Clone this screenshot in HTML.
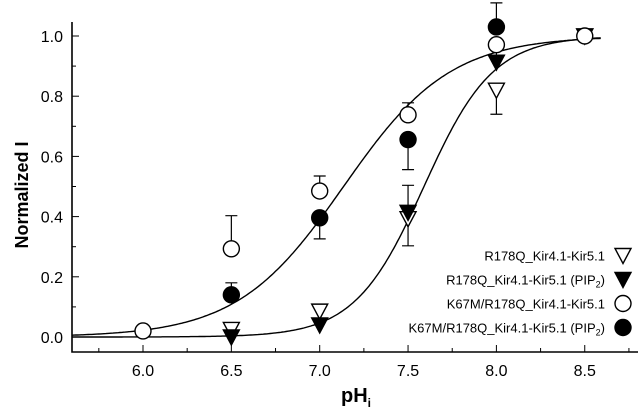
<!DOCTYPE html>
<html><head><meta charset="utf-8"><style>
body{margin:0;background:#fff}
svg{display:block;font-family:"Liberation Sans",Arial,sans-serif}
</style></head><body>
<svg id="chart" width="640" height="411" viewBox="0 0 640 411" xmlns="http://www.w3.org/2000/svg">
<g id="axes"></g>
<g id="curves"></g>
<g id="marks"></g>
<g id="legend"></g>
<text transform="translate(28,195) rotate(-90)" text-anchor="middle" font-size="18" font-weight="bold">Normalized I</text>
<text x="356" y="402" text-anchor="middle" font-size="20" font-weight="bold">pH<tspan font-size="12" dy="5">i</tspan></text>
</svg>
<script>
const xTicks=[6.0,6.5,7.0,7.5,8.0,8.5];
const yTicks=[0.0,0.2,0.4,0.6,0.8,1.0];
const phValues=[6.0,6.5,7.0,7.5,8.0,8.5];
const openTri=[null,0.025,0.086,0.393,0.82,1.0];
const openTriErr=[null,0,0,0.09,0.08,0.01];
const filledTri=[null,0.0,0.04,0.414,0.913,1.0];
const filledTriErr=[null,0,0.02,0.09,0.04,0];
const openCirc=[0.02,0.293,0.485,0.738,0.971,1.0];
const openCircErr=[0,0.11,0.05,0.04,0,0];
const filledCirc=[null,0.14,0.396,0.656,1.03,null];
const filledCircErr=[null,0.04,0.07,0.10,0.08,null];
const fitLeft=[7.135,1.44];
const fitRight=[7.59,2.22];
const legendLabels=["R178Q_Kir4.1-Kir5.1","R178Q_Kir4.1-Kir5.1 (PIP","K67M/R178Q_Kir4.1-Kir5.1","K67M/R178Q_Kir4.1-Kir5.1 (PIP"];

const NS="http://www.w3.org/2000/svg";
const X=v=>143+(v-6.0)*176.7;
const Y=v=>337-v*301;
function el(tag,attrs,parent){const e=document.createElementNS(NS,tag);for(const k in attrs)e.setAttribute(k,attrs[k]);parent.appendChild(e);return e;}
const axes=document.getElementById('axes');
let a=el('path',{d:'M72 22 V352 H638',fill:'none',stroke:'#000','stroke-width':1.6},axes);

for(let v=5.75;v<=8.8;v+=0.25){const major=Math.abs((v*2)-Math.round(v*2))<1e-6;
 const t=el('line',{x1:X(v),x2:X(v),y1:352,y2:352-(major?7:4),stroke:'#000','stroke-width':1},axes);
 }
xTicks.forEach(v=>{const t=el('text',{x:X(v),y:376,'text-anchor':'middle','font-size':16},axes);t.textContent=v.toFixed(1);
 });
for(let i=0;i<=10;i++){const v=i/10;const major=i%2===0;
 const t=el('line',{x1:72,x2:72+(major?7:4),y1:Y(v),y2:Y(v),stroke:'#000','stroke-width':1},axes);
 }
yTicks.forEach(v=>{const t=el('text',{x:63,y:Y(v)+6,'text-anchor':'end','font-size':16},axes);t.textContent=v.toFixed(1);
 });

const curves=document.getElementById('curves');
function hill(p,pk,n){return 1/(1+Math.pow(10,n*(pk-p)));}
[fitLeft,fitRight].forEach((f,idx)=>{let d='';for(let p=5.6;p<=8.59;p+=0.01){d+=(d?'L':'M')+X(p).toFixed(1)+' '+Y(hill(p,f[0],f[1])).toFixed(1);}
 const c=el('path',{d:d,fill:'none',stroke:'#000','stroke-width':1.4},curves);
 });

const marks=document.getElementById('marks');
function errbar(x,y,e,dir){if(!e)return;const y2=Y(y+dir*e);
 const g=el('path',{d:`M${x} ${Y(y)} V${y2} M${x-6} ${y2} H${x+6}`,stroke:'#000','stroke-width':1.2,fill:'none'},marks);
 }
function sym(type,x,y,parent){let s;
 if(type==='ot'||type==='ft'){s=el('path',{d:`M${x-8} ${y-7} H${x+8} L${x} ${y+8} Z`,fill:type==='ft'?'#000':'#fff',stroke:'#000','stroke-width':1.4},parent);}
 else{s=el('circle',{cx:x,cy:y,r:8,fill:type==='fc'?'#000':'#fff',stroke:'#000','stroke-width':1.4},parent);}
 return s;}
const series=[['ot',openTri,openTriErr,-1],['ft',filledTri,filledTriErr,1],['fc',filledCirc,filledCircErr,0],['oc',openCirc,openCircErr,1]];
series.forEach(([t,vals,errs,dir])=>{vals.forEach((v,i)=>{if(v===null)return;
 let d=dir; if(t==='fc'){d=(i===2||i===3)?-1:1;}
 errbar(X(phValues[i]),v,errs[i],d);});});
series.forEach(([t,vals])=>{vals.forEach((v,i)=>{if(v===null)return;
 const s=sym(t,X(phValues[i]),Y(v),marks);
 
 });});

const legend=document.getElementById('legend');
const lt=['ot','ft','oc','fc'];
legendLabels.forEach((lab,i)=>{const y=255.5+i*24;
 const t=el('text',{x:605,y:y+5,'text-anchor':'end','font-size':13},legend);
 
 t.textContent=lab;
 if(i===1||i===3){const s1=el('tspan',{'font-size':9,dy:3},t);s1.textContent='2';const s2=el('tspan',{dy:-3},t);s2.textContent=')';}
 const s=sym(lt[i],623,y,legend);
 
 });
</script>
</body></html>
